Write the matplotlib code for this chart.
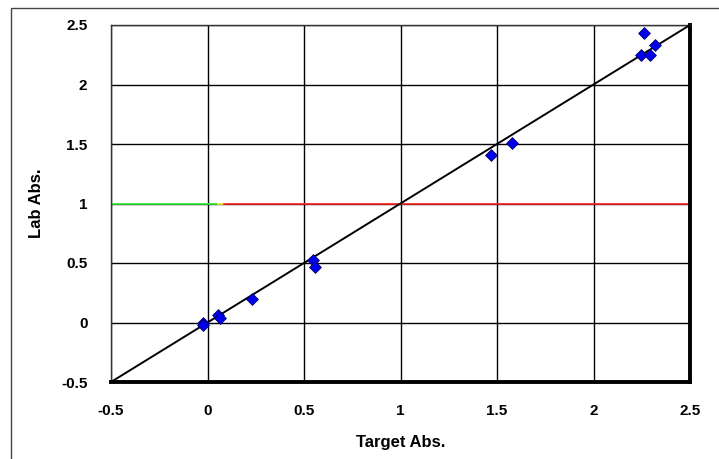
import matplotlib
matplotlib.use("Agg")
import matplotlib.pyplot as plt
from matplotlib.patches import Rectangle

plt.rcParams['font.family'] = ['Liberation Sans', 'DejaVu Sans']

target_abs = [-0.025, -0.022, 0.056, 0.065, 0.229, 0.548, 0.557, 1.467, 1.576, 2.246, 2.262, 2.293, 2.319]
lab_abs = [0.00, -0.02, 0.06, 0.04, 0.197, 0.525, 0.464, 1.408, 1.506, 2.248, 2.435, 2.248, 2.332]

ref_line = [-0.5, 2.5]
limit_level = 1.0
green_range = [-0.5, 0.056]
yellow_range = [0.056, 0.087]
red_range = [0.087, 2.5]

ticks = [-0.5, 0, 0.5, 1, 1.5, 2, 2.5]
tick_labels = ['-0.5', '0', '0.5', '1', '1.5', '2', '2.5']

fig = plt.figure(figsize=(7.19, 4.59), dpi=100)
fig.patches.append(Rectangle((11/719, -0.1), 1.2, 1 - 8/459 + 0.1, transform=fig.transFigure,
                             fill=False, edgecolor='#444444', linewidth=1.0))
ax = fig.add_axes([111/719, 1 - 382/459, 579/719, 357/459])

ax.set_xlim(-0.5, 2.5)
ax.set_ylim(-0.5, 2.5)
ax.set_xticks(ticks)
ax.set_yticks(ticks)
ax.set_xticklabels(tick_labels, fontsize=11, fontweight='bold')
ax.set_yticklabels(tick_labels, fontsize=11, fontweight='bold')
ax.tick_params(length=0)
ax.tick_params(axis='x', pad=16)
ax.tick_params(axis='y', pad=17)
ax.grid(True, color='black', linewidth=1.0)
ax.set_axisbelow(True)

ax.plot(green_range, [limit_level, limit_level], color='#33ee33', linewidth=1.2, zorder=2)
ax.plot(yellow_range, [limit_level, limit_level], color='#ffee33', linewidth=1.2, zorder=2)
ax.plot(red_range, [limit_level, limit_level], color='#ff2222', linewidth=1.2, zorder=2)
ax.plot(ref_line, ref_line, color='black', linewidth=1.4, zorder=3)
ax.scatter(target_abs, lab_abs, marker='D', s=36, color='#0000ee', edgecolors='#000066',
           linewidths=0.6, zorder=4)

for s in ['left', 'top']:
    ax.spines[s].set_linewidth(1.0)
    ax.spines[s].set_color('#333333')
for s in ['right', 'bottom']:
    ax.spines[s].set_linewidth(2.8)
    ax.spines[s].set_color('black')

ax.set_xlabel('Target Abs.', fontsize=12, fontweight='bold', labelpad=12)
ax.set_ylabel('Lab Abs.', fontsize=12, fontweight='bold', labelpad=12)

fig.savefig('out.png', dpi=100)
